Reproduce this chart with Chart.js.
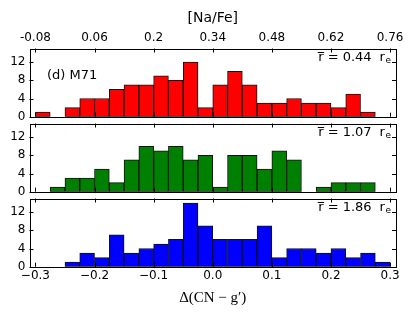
<!DOCTYPE html>
<html><head><meta charset="utf-8">
<script src="https://cdn.jsdelivr.net/npm/chart.js@4.4.1/dist/chart.umd.min.js"></script>
<style>
html,body{margin:0;padding:0;background:#fff;}
#wrap{position:relative;width:415px;height:312px;background:#fff;}
canvas{position:absolute;left:0;top:0;}
</style></head><body>
<div id="wrap">
<canvas id="c1" width="415" height="312"></canvas>
<canvas id="c2" width="415" height="312"></canvas>
<canvas id="c3" width="415" height="312"></canvas>
</div>
<script>
// ---- data ----
const binCenters = [-0.2875,-0.2625,-0.2375,-0.2125,-0.1875,-0.1625,-0.1375,-0.1125,-0.0875,-0.0625,-0.0375,-0.0125,
                    0.0125,0.0375,0.0625,0.0875,0.1125,0.1375,0.1625,0.1875,0.2125,0.2375,0.2625,0.2875];
const redCounts   = [1,0,2,4,4,6,7,7,9,8,12,2,7,10,7,3,3,4,3,3,2,5,1,0];
const greenCounts = [0,1,3,3,5,2,7,10,9,10,7,8,1,8,8,5,9,7,0,1,2,2,2,0];
const blueCounts  = [0,0,1,3,2,7,3,4,5,6,14,9,6,6,6,9,2,4,4,3,4,2,3,1];
const panelRadii  = ['0.44','1.07','1.86'];
const xTickValues = [-0.3,-0.2,-0.1,0.0,0.1,0.2,0.3];
const xTickLabels = ['\u22120.3','\u22120.2','\u22120.1','0.0','0.1','0.2','0.3'];
const naFeTickValues = [-0.08,0.06,0.2,0.34,0.48,0.62,0.76];
const naFeTickLabels = ['-0.08','0.06','0.2','0.34','0.48','0.62','0.76'];
const yTickValues = [0,4,8,12];
const yTickLabels = ['0','4','8','12'];

// ---- layout constants ----
const X_MIN = -0.31, X_MAX = 0.31, Y_MAX = 15;
const NAFE_AT_ZERO = 0.34, NAFE_PER_DELTA = 1.4;
const FONT = "'DejaVu Sans', sans-serif";
const panels = [
  {id:'c1', counts:redCounts,   color:'#ff0000', top:48.5,  bottom:116.7, name:'(d) M71'},
  {id:'c2', counts:greenCounts, color:'#008000', top:123.5, bottom:191.7},
  {id:'c3', counts:blueCounts,  color:'#0000ff', top:198.5, bottom:266.7}
];

const framePlugin = {
  id:'frameTicks',
  afterDatasetsDraw(chart, args, opts){
    const {ctx, chartArea:{left,right,top,bottom}} = chart;
    const xs = chart.scales.x, ys = chart.scales.y, x2 = chart.scales.x2;
    const L = 4;
    ctx.save();
    ctx.strokeStyle = '#000'; ctx.lineWidth = 1;
    ctx.beginPath();
    yTickValues.forEach(v=>{
      const py = Math.round(ys.getPixelForValue(v)) + 0.5;
      ctx.moveTo(left, py); ctx.lineTo(left+L, py);
      ctx.moveTo(right, py); ctx.lineTo(right-L, py);
    });
    xTickValues.forEach(v=>{
      const px = Math.round(xs.getPixelForValue(v)) + 0.5;
      ctx.moveTo(px, bottom); ctx.lineTo(px, bottom-L);
      if(!x2){ ctx.moveTo(px, top); ctx.lineTo(px, top+L); }
    });
    if(x2){
      naFeTickValues.forEach(v=>{
        const px = Math.round(x2.getPixelForValue(v)) + 0.5;
        ctx.moveTo(px, top); ctx.lineTo(px, top+L);
      });
    }
    ctx.stroke();
    ctx.strokeRect(Math.round(left)+0.5, Math.round(top)+0.5, Math.round(right)-Math.round(left), Math.round(bottom)-Math.round(top));
    // annotations
    ctx.fillStyle = '#000';
    ctx.textBaseline = 'middle';
    if(opts.name){
      ctx.font = "13px " + FONT;
      ctx.textAlign = 'left';
      ctx.fillText(opts.name, left + 17.5, top + 27);
    }
    const yText = top + 9.5;
    let xr = right - 5;
    ctx.textAlign = 'right';
    ctx.font = "9px " + FONT;
    ctx.fillText('e', xr, yText + 3);
    xr -= ctx.measureText('e').width + 0.5;
    ctx.font = "13px " + FONT;
    ctx.fillText('r', xr, yText);
    xr -= ctx.measureText('r').width + 8;
    const main = '= ' + opts.radius;
    ctx.fillText(main, xr, yText);
    xr -= ctx.measureText(main).width + 4;
    ctx.fillText('r', xr, yText);
    const rw = ctx.measureText('r').width;
    ctx.beginPath();
    ctx.moveTo(xr - rw - 0.5, Math.round(yText - 6) + 0.5); ctx.lineTo(xr + 0.5, Math.round(yText - 6) + 0.5);
    ctx.stroke();
    ctx.restore();
  }
};

panels.forEach((p, idx)=>{
  const isFirst = idx === 0, isLast = idx === panels.length - 1;
  const scales = {
    x: {
      type:'linear', min:X_MIN, max:X_MAX, offset:false,
      display: isLast,
      afterBuildTicks: s => { s.ticks = xTickValues.map(v=>({value:v})); },
      ticks: {autoSkip:false, maxRotation:0, padding:2, color:'#000',
              font:{family:FONT, size:12},
              callback:(v,i)=> xTickLabels[i]},
      grid:{display:false, drawTicks:false}, border:{display:false},
      title:{display:true, text:'\u0394(CN \u2212 g\u2032)', color:'#000',
             font:{family:"'Liberation Serif', serif", size:15}, padding:{top:0,bottom:5}},
      afterFit: s => { s.height = isLast ? 312 - p.bottom : 0; }
    },
    y: {
      min:0, max:Y_MAX,
      afterBuildTicks: s => { s.ticks = yTickValues.map(v=>({value:v})); },
      ticks:{padding:4, color:'#000', font:{family:FONT, size:12},
             callback:(v,i)=> yTickLabels[i]},
      grid:{display:false, drawTicks:false}, border:{display:false},
      afterFit: s => { s.width = 29.5; }
    }
  };
  if(isFirst){
    scales.x2 = {
      type:'linear', position:'top', offset:false,
      min: NAFE_AT_ZERO + NAFE_PER_DELTA*X_MIN, max: NAFE_AT_ZERO + NAFE_PER_DELTA*X_MAX,
      afterBuildTicks: s => { s.ticks = naFeTickValues.map(v=>({value:v})); },
      ticks:{autoSkip:false, maxRotation:0, padding:3, color:'#000',
             font:{family:FONT, size:12},
             callback:(v,i)=> naFeTickLabels[i]},
      grid:{display:false, drawTicks:false}, border:{display:false},
      title:{display:true, text:'[Na/Fe]', color:'#000', font:{family:FONT, size:14}, padding:{top:10,bottom:0}},
      afterFit: s => { s.height = p.top; }
    };
  }
  new Chart(document.getElementById(p.id), {
    type:'bar',
    data:{ datasets:[{
      data: binCenters.map((c,i)=>({x:c, y:p.counts[i]})),
      backgroundColor:p.color, borderColor:'#111', borderWidth:1, borderSkipped:false,
      barPercentage:1, categoryPercentage:1, grouped:false
    }]},
    options:{
      responsive:false, animation:false, devicePixelRatio:1,
      layout:{padding:{left:0, right:19, top: isFirst ? 0 : p.top, bottom: isLast ? 0 : 312 - p.bottom}},
      plugins:{legend:{display:false}, tooltip:{enabled:false},
               frameTicks:{radius:panelRadii[idx], name:p.name}},
      scales
    },
    plugins:[framePlugin]
  });
});
</script>
</body></html>
